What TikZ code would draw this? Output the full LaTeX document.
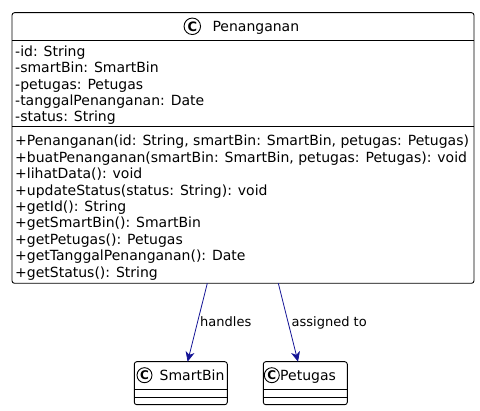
\documentclass[tikz,border=0pt]{standalone}
\usepackage{fontspec}
\setmainfont{DejaVu Sans}
\usetikzlibrary{arrows.meta}
\definecolor{arrowblue}{RGB}{20,20,150}
\tikzset{
  classbox/.style={draw=black, line width=0.9pt, rounded corners=2.5pt, fill=white},
  sepline/.style={draw=black, line width=0.9pt},
  member/.style={anchor=base west, inner sep=0pt, font=\fontsize{14}{16}\selectfont},
  title/.style={anchor=base west, inner sep=0pt, font=\fontsize{14}{16}\selectfont},
  cmark/.style={circle, draw=black, line width=0.9pt, inner sep=0pt, font=\fontsize{13}{13}\selectfont\bfseries},
  assoc/.style={draw=arrowblue, line width=0.8pt, -{Stealth[length=10pt,width=9pt,inset=3pt]}},
  lbl/.style={anchor=base west, inner sep=0pt, font=\fontsize{13}{15}\selectfont}
}
\begin{document}
\begin{tikzpicture}[x=1pt,y=-1pt]
\useasboundingbox (0,0) rectangle (480,411);
% main class
\draw[classbox] (12,12.7) rectangle (474,283.3);
\coordinate (mainS1) at (12,40.7);
\coordinate (mainS1e) at (474,40.7);
\coordinate (mainS2) at (12,126.7);
\coordinate (mainS2e) at (474,126.7);
\draw[sepline] (mainS1) -- (mainS1e);
\draw[sepline] (mainS2) -- (mainS2e);
\node[cmark, minimum size=16.5pt] (pc) at (192.3,26.3) {C};
\node[title] (pt) at (212.3,31.3) {Penanganan};
\node[member] (a1) at (15,56.7) {-id: String};
\node[member] (a2) at (15,73.0) {-smartBin: SmartBin};
\node[member] (a3) at (15,89.3) {-petugas: Petugas};
\node[member] (a4) at (15,105.6) {-tanggalPenanganan: Date};
\node[member] (a5) at (15,121.9) {-status: String};
\node[member] (m1) at (15,146.0) {+Penanganan(id: String, smartBin: SmartBin, petugas: Petugas)};
\node[member] (m2) at (15,162.4) {+buatPenanganan(smartBin: SmartBin, petugas: Petugas): void};
\node[member] (m3) at (15,178.8) {+lihatData(): void};
\node[member] (m4) at (15,195.2) {+updateStatus(status: String): void};
\node[member] (m5) at (15,211.6) {+getId(): String};
\node[member] (m6) at (15,228.0) {+getSmartBin(): SmartBin};
\node[member] (m7) at (15,244.4) {+getPetugas(): Petugas};
\node[member] (m8) at (15,260.8) {+getTanggalPenanganan(): Date};
\node[member] (m9) at (15,277.2) {+getStatus(): String};
% SmartBin
\draw[classbox] (134.3,361.7) rectangle (227.3,404.7);
\draw[sepline] (134.3,389.3) -- (227.3,389.3);
\draw[sepline] (134.3,397.0) -- (227.3,397.0);
\node[cmark, minimum size=15pt, font=\fontsize{12}{12}\selectfont\bfseries] (sc) at (144.5,375.2) {C};
\node[title] (st) at (159.5,380.3) {SmartBin};
% Petugas
\draw[classbox] (263.3,361.7) rectangle (347.3,404.7);
\draw[sepline] (263.3,389.3) -- (347.3,389.3);
\draw[sepline] (263.3,397.0) -- (347.3,397.0);
\node[cmark, minimum size=15pt, font=\fontsize{12}{12}\selectfont\bfseries] (gc) at (271.8,375.2) {C};
\node[title] (gt) at (280,380.3) {Petugas};
% connectors
\coordinate (h1) at (207.3,283.3);
\coordinate (h2) at (187.6,361.7);
\coordinate (g1) at (278.3,283.3);
\coordinate (g2) at (298.0,361.7);
\draw[assoc] (h1) -- (h2);
\draw[assoc] (g1) -- (g2);
\node[lbl] (hl) at (200,327) {handles};
\node[lbl] (gl) at (291.5,327) {assigned to};
\end{tikzpicture}
\end{document}
